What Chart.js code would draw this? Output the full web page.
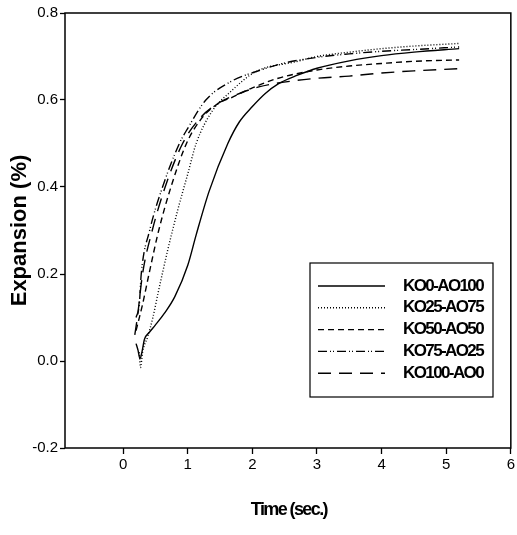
<!DOCTYPE html>
<html>
<head>
<meta charset="utf-8">
<script src="https://cdn.jsdelivr.net/npm/chart.js@4/dist/chart.umd.min.js"></script>
<style>
    html, body { margin: 0; padding: 0; background: #fff; }
    #wrap { width: 517px; height: 535px; }
</style>
</head>
<body>
<div id="wrap"><canvas id="chart"></canvas></div>
<script>
// values, [time (sec.), expansion (%)]
const seriesNames = ['KO0-AO100', 'KO25-AO75', 'KO50-AO50', 'KO75-AO25', 'KO100-AO0'];

const ko0 = [
    [0.2, 0.04], [0.23, 0.025], [0.26, 0.005], [0.29, 0.02], [0.33, 0.05], [0.4, 0.065],
    [0.5, 0.083], [0.64, 0.11], [0.8, 0.148], [1.0, 0.22], [1.13, 0.29], [1.33, 0.39],
    [1.62, 0.5], [1.8, 0.55], [2.0, 0.585], [2.2, 0.615], [2.4, 0.637], [2.7, 0.657],
    [3.0, 0.673], [3.5, 0.69], [4.0, 0.702], [4.5, 0.71], [5.2, 0.718]
];
const ko25 = [
    [0.25, 0.02], [0.27, -0.015], [0.3, 0.02], [0.38, 0.056], [0.46, 0.1], [0.54, 0.156],
    [0.69, 0.255], [0.85, 0.35], [1.0, 0.43], [1.13, 0.5], [1.38, 0.575], [1.64, 0.616],
    [2.05, 0.665], [2.67, 0.688], [3.0, 0.7], [3.5, 0.71], [4.0, 0.718], [4.5, 0.724], [5.2, 0.73]
];
const ko50 = [
    [0.2, 0.07], [0.3, 0.13], [0.4, 0.2], [0.55, 0.3], [0.74, 0.4], [0.98, 0.5],
    [1.2, 0.555], [1.45, 0.59], [1.7, 0.607], [2.0, 0.628], [2.4, 0.65], [3.0, 0.669],
    [3.5, 0.678], [4.0, 0.684], [4.5, 0.689], [5.2, 0.692]
];
const ko75 = [
    [0.2, 0.1], [0.25, 0.13], [0.28, 0.2], [0.41, 0.3], [0.61, 0.4], [0.87, 0.5],
    [1.0, 0.535], [1.28, 0.6], [1.7, 0.645], [2.05, 0.665], [2.5, 0.685], [3.0, 0.698],
    [3.5, 0.706], [4.0, 0.712], [4.5, 0.716], [5.2, 0.722]
];
const ko100 = [
    [0.18, 0.06], [0.22, 0.1], [0.3, 0.2], [0.45, 0.3], [0.65, 0.4], [0.92, 0.5],
    [1.2, 0.56], [1.5, 0.595], [1.8, 0.615], [2.1, 0.63], [2.4, 0.639], [3.0, 0.65],
    [3.5, 0.655], [4.0, 0.662], [4.5, 0.667], [5.2, 0.672]
];

const xTicks = [0, 1, 2, 3, 4, 5, 6];
const yTicks = [-0.2, 0.0, 0.2, 0.4, 0.6, 0.8];
const xTitle = 'Time (sec.)';
const yTitle = 'Expansion (%)';

const dashes = [[], [1, 2], [6, 4], [9, 3, 1, 2, 1, 3], [13, 8]];
const allData = [ko0, ko25, ko50, ko75, ko100];

const FONT = '"Liberation Sans", Arial, sans-serif';

// box around plot, axis titles, legend inside
const framePlugin = {
    id: 'frame',
    afterDraw(chart) {
        const { ctx, chartArea: a } = chart;
        ctx.save();
        ctx.strokeStyle = '#000';
        ctx.fillStyle = '#000';
        ctx.lineWidth = 1.5;
        ctx.strokeRect(a.left, a.top, a.right - a.left, a.bottom - a.top);

        // axis titles
        ctx.textAlign = 'center';
        ctx.textBaseline = 'middle';
        ctx.font = 'bold 18px ' + FONT;
        ctx.letterSpacing = '-1.6px';
        ctx.fillText(xTitle, (a.left + a.right) / 2 + 1, 510);
        ctx.letterSpacing = '0px';
        ctx.save();
        ctx.translate(20, (a.top + a.bottom) / 2);
        ctx.rotate(-Math.PI / 2);
        ctx.font = 'bold 22px ' + FONT;
        ctx.fillText(yTitle, 0, 0);
        ctx.restore();

        // legend box
        const bx = a.left + 245, by = a.top + 250, bw = 183, bh = 134;
        ctx.lineWidth = 1.2;
        ctx.strokeRect(bx, by, bw, bh);
        ctx.font = 'bold 17px ' + FONT;
        ctx.letterSpacing = '-1.6px';
        ctx.textAlign = 'left';
        chart.data.datasets.forEach((ds, i) => {
            const y = by + 23 + i * 21.8;
            ctx.beginPath();
            ctx.setLineDash(ds.borderDash);
            ctx.lineWidth = 1.4;
            ctx.moveTo(bx + 8, y);
            ctx.lineTo(bx + 75, y);
            ctx.stroke();
            ctx.setLineDash([]);
            ctx.fillText(ds.label, bx + 93, y);
        });
        ctx.restore();
    }
};

new Chart(document.getElementById('chart'), {
    type: 'line',
    data: {
        datasets: seriesNames.map((name, i) => ({
            label: name,
            data: allData[i].map(p => ({ x: p[0], y: p[1] })),
            borderColor: '#000',
            borderWidth: 1.4,
            borderDash: dashes[i],
            pointRadius: 0,
            fill: false,
            cubicInterpolationMode: 'monotone'
        }))
    },
    options: {
        responsive: true,
        maintainAspectRatio: false,
        animation: false,
        layout: { padding: { top: 13, right: 5, left: 0, bottom: 0 } },
        plugins: { legend: { display: false }, tooltip: { enabled: false } },
        scales: {
            x: {
                type: 'linear',
                min: -0.9,
                max: 6,
                afterBuildTicks: s => { s.ticks = xTicks.map(v => ({ value: v })); },
                afterFit: s => { s.height = 87; },
                grid: { display: true, drawOnChartArea: false, color: '#000', tickLength: 6, tickWidth: 1.3 },
                border: { display: false },
                ticks: { color: '#000', font: { family: FONT, size: 15 }, padding: 2, maxRotation: 0 }
            },
            y: {
                min: -0.2,
                max: 0.8,
                afterBuildTicks: s => { s.ticks = yTicks.map(v => ({ value: v })); },
                afterFit: s => { s.width = 65; },
                grid: { display: true, drawOnChartArea: false, color: '#000', tickLength: 5, tickWidth: 1.3 },
                border: { display: false },
                ticks: { color: '#000', font: { family: FONT, size: 15 }, padding: 2, callback: v => v.toFixed(1) }
            }
        }
    },
    plugins: [framePlugin]
});
</script>
</body>
</html>
